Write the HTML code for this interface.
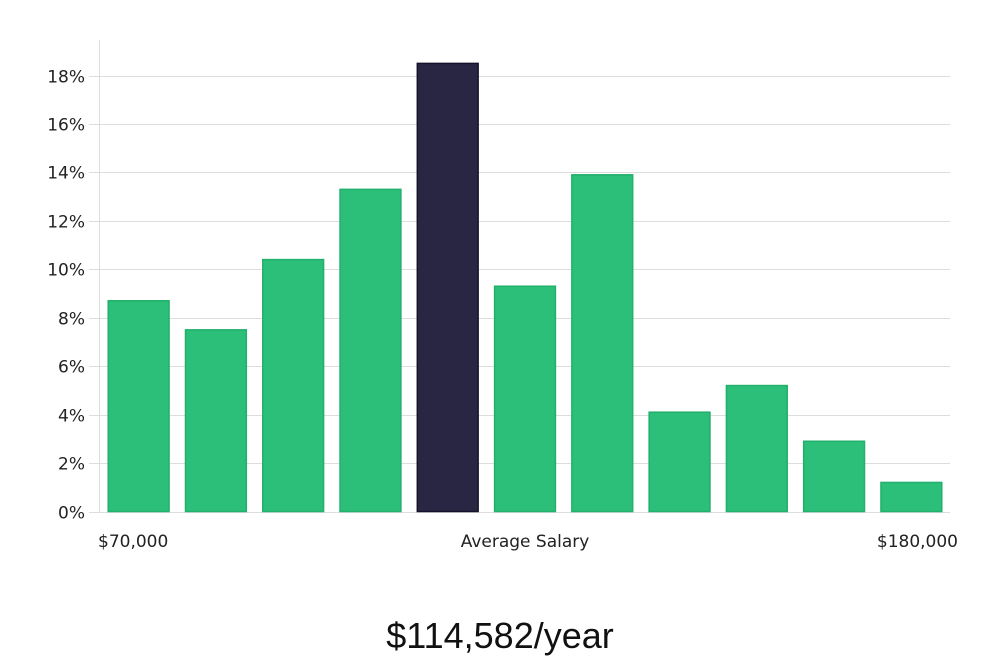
<!DOCTYPE html>
<html><head><meta charset="utf-8"><style>
body{margin:0;background:#fff;width:1000px;height:660px;overflow:hidden;font-family:"DejaVu Sans","Liberation Sans",sans-serif}
</style></head><body>
<svg id="chart" width="1000" height="660" xmlns="http://www.w3.org/2000/svg">
<g id="grid"></g>
<g id="ylabels" font-size="17" fill="#222" text-anchor="end"></g>
<line x1="99.5" y1="40" x2="99.5" y2="512" stroke="#ddd" stroke-width="1"/>
<g id="bars"></g>
<text x="98" y="547" font-size="17" fill="#222">$70,000</text>
<text x="525" y="547" font-size="17" fill="#222" text-anchor="middle">Average Salary</text>
<text x="958" y="547" font-size="17" fill="#222" text-anchor="end">$180,000</text>
<text x="500" y="648" font-size="36" fill="#111" text-anchor="middle" font-family="'Liberation Sans',sans-serif">$114,582/year</text>
</svg>
<script>
const yTicks=[0,2,4,6,8,10,12,14,16,18];
const tickLabels=["0%","2%","4%","6%","8%","10%","12%","14%","16%","18%"];
const values=[8.7,7.5,10.4,13.3,18.5,9.3,13.9,4.1,5.2,2.9,1.2];
const highlightIndex=4;
const NS="http://www.w3.org/2000/svg";
const y0=511.5,pxPer=(511.5-75.5)/18;
function yScale(v){return y0-v*pxPer;}
const left=100,right=950,n=values.length,step=(right-left)/n,bw=step*0.8;
function xScale(i){return left+step*i+(step-bw)/2;}
const grid=document.getElementById('grid'),yl=document.getElementById('ylabels'),bars=document.getElementById('bars');
yTicks.forEach((t,i)=>{
 const l=document.createElementNS(NS,'line');
 
 
 const y=Math.round(yScale(t))+0.5;
 l.setAttribute('x1',89);l.setAttribute('x2',950);l.setAttribute('y1',y);l.setAttribute('y2',y);
 l.setAttribute('stroke','#ddd');grid.appendChild(l);
 const tx=document.createElementNS(NS,'text');
 
 
 tx.setAttribute('x',85);tx.setAttribute('y',y+6);tx.textContent=tickLabels[i];yl.appendChild(tx);
});
values.forEach((v,i)=>{
 const r=document.createElementNS(NS,'rect');
 
 
 const hi=i===highlightIndex;
 r.setAttribute('x',xScale(i)+0.5);r.setAttribute('width',bw-1);
 r.setAttribute('y',yScale(v));r.setAttribute('height',y0-yScale(v));
 r.setAttribute('fill',hi?'#292644':'#2bbf79');
 r.setAttribute('stroke',hi?'#15132a':'#22b06c');r.setAttribute('stroke-width',1.5);
 bars.appendChild(r);
});
</script>
</body></html>
